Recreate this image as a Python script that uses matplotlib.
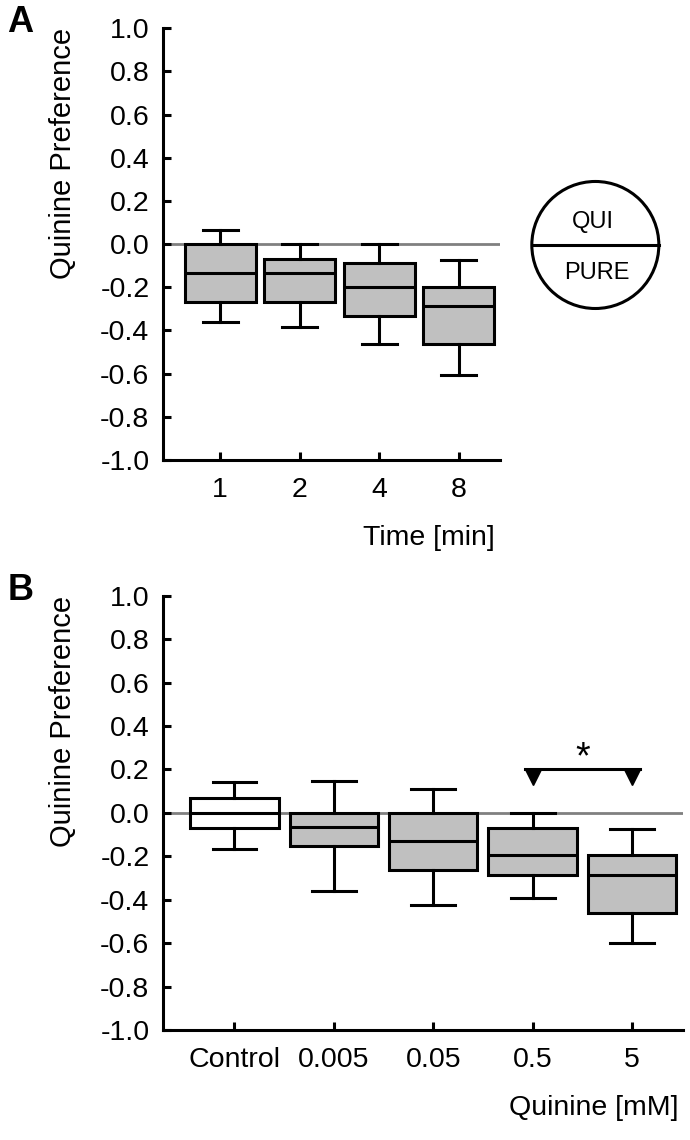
import matplotlib
matplotlib.use('Agg')
import matplotlib.pyplot as plt
from matplotlib.patches import Circle

plt.rcParams['font.family'] = ['Liberation Sans', 'DejaVu Sans']
plt.rcParams['axes.unicode_minus'] = False

## datos panel A (tiempo)
time_labels = ['1', '2', '4', '8']
a_q3 = [0.0, -0.068, -0.088, -0.200]
a_med = [-0.133, -0.133, -0.200, -0.288]
a_q1 = [-0.268, -0.268, -0.333, -0.464]
a_hi = [0.065, 0.0, 0.0, -0.074]
a_lo = [-0.363, -0.383, -0.464, -0.605]

## datos panel B (concentracion)
conc_labels = ['Control', '0.005', '0.05', '0.5', '5']
b_q3 = [0.066, 0.0, 0.0, -0.072, -0.196]
b_med = [0.0, -0.066, -0.129, -0.196, -0.285]
b_q1 = [-0.071, -0.154, -0.261, -0.285, -0.462]
b_hi = [0.141, 0.147, 0.109, 0.0, -0.074]
b_lo = [-0.166, -0.359, -0.423, -0.393, -0.601]
b_colors = ['white', '#c0c0c0', '#c0c0c0', '#c0c0c0', '#c0c0c0']

sig_pair = [4, 5]
sig_y = 0.2

LW = 2.2
FS = 20.5


def make_stats(q1, med, q3, lo, hi):
    return [dict(q1=a, med=b, q3=c, whislo=d, whishi=e)
            for a, b, c, d, e in zip(q1, med, q3, lo, hi)]


def draw_panel(ax, stats, labels, colors, xmax):
    pos = list(range(1, len(labels) + 1))
    ax.axhline(0, color='#808080', lw=2, zorder=1)
    bp = ax.bxp(stats, positions=pos, widths=0.89, capwidths=0.44,
                patch_artist=True, showfliers=False, manage_ticks=False,
                boxprops=dict(lw=LW, edgecolor='black'),
                medianprops=dict(color='black', lw=LW),
                whiskerprops=dict(color='black', lw=LW),
                capprops=dict(color='black', lw=LW), zorder=3)
    for box, c in zip(bp['boxes'], colors):
        box.set_facecolor(c)
    ax.set_xlim(0.285, xmax)
    ax.set_ylim(-1.0, 1.0)
    ax.set_yticks([i / 5 for i in range(-5, 6)])
    ax.set_yticklabels(['%.1f' % (i / 5) for i in range(-5, 6)])
    ax.set_xticks(pos)
    ax.set_xticklabels(labels)
    for s in ['top', 'right']:
        ax.spines[s].set_visible(False)
    for s in ['left', 'bottom']:
        ax.spines[s].set_linewidth(LW)
    ax.tick_params(axis='both', direction='in', length=6, width=LW,
                   labelsize=FS)
    ax.tick_params(axis='x', pad=12)
    ax.tick_params(axis='y', pad=10)


fig = plt.figure(figsize=(6.9, 11.4), dpi=100)
axA = fig.add_axes([0.2367, 0.5965, 0.488, 0.3787])
axB = fig.add_axes([0.2367, 0.0965, 0.7528, 0.381])

draw_panel(axA, make_stats(a_q1, a_med, a_q3, a_lo, a_hi), time_labels,
           ['#c0c0c0'] * 4, 4.52)
draw_panel(axB, make_stats(b_q1, b_med, b_q3, b_lo, b_hi), conc_labels,
           b_colors, 5.51)

axA.set_ylabel('Quinine Preference', fontsize=21, loc='top')
axA.yaxis.set_label_coords(-0.256, 1.0)
axA.set_xlabel('Time [min]', fontsize=FS, loc='right')
axA.xaxis.set_label_coords(0.985, -0.15)

axB.set_ylabel('Quinine Preference', fontsize=21, loc='top')
axB.yaxis.set_label_coords(-0.166, 1.0)
axB.set_xlabel('Quinine [mM]', fontsize=FS, loc='right')
axB.xaxis.set_label_coords(0.991, -0.15)

# significancia
axB.plot([sig_pair[0] - 0.08, sig_pair[1] + 0.08], [sig_y, sig_y],
         color='black', lw=LW, zorder=4)
axB.plot(sig_pair, [sig_y - 0.037] * 2, 'kv', ms=12, zorder=4)
axB.text(sum(sig_pair) / 2, 0.205, '*', fontsize=27, ha='center',
         va='baseline')

# circulo QUI / PURE
axC = fig.add_axes([0.7541, 0.7193, 0.2174, 0.1316])
axC.set_xlim(-75, 75)
axC.set_ylim(-75, 75)
axC.axis('off')
axC.add_patch(Circle((0, 0), 63.5, fill=False, lw=LW, ec='black'))
axC.plot([-63.5, 63.5], [0, 0], color='black', lw=LW)
axC.text(-2.3, 16.7, 'QUI', fontsize=17, ha='center', va='baseline')
axC.text(1.9, -34.3, 'PURE', fontsize=17, ha='center', va='baseline')

fig.text(0.0101, 0.9719, 'A', fontsize=26, fontweight='bold', va='baseline')
fig.text(0.0116, 0.4737, 'B', fontsize=26, fontweight='bold', va='baseline')

fig.savefig('out.png', dpi=100)
